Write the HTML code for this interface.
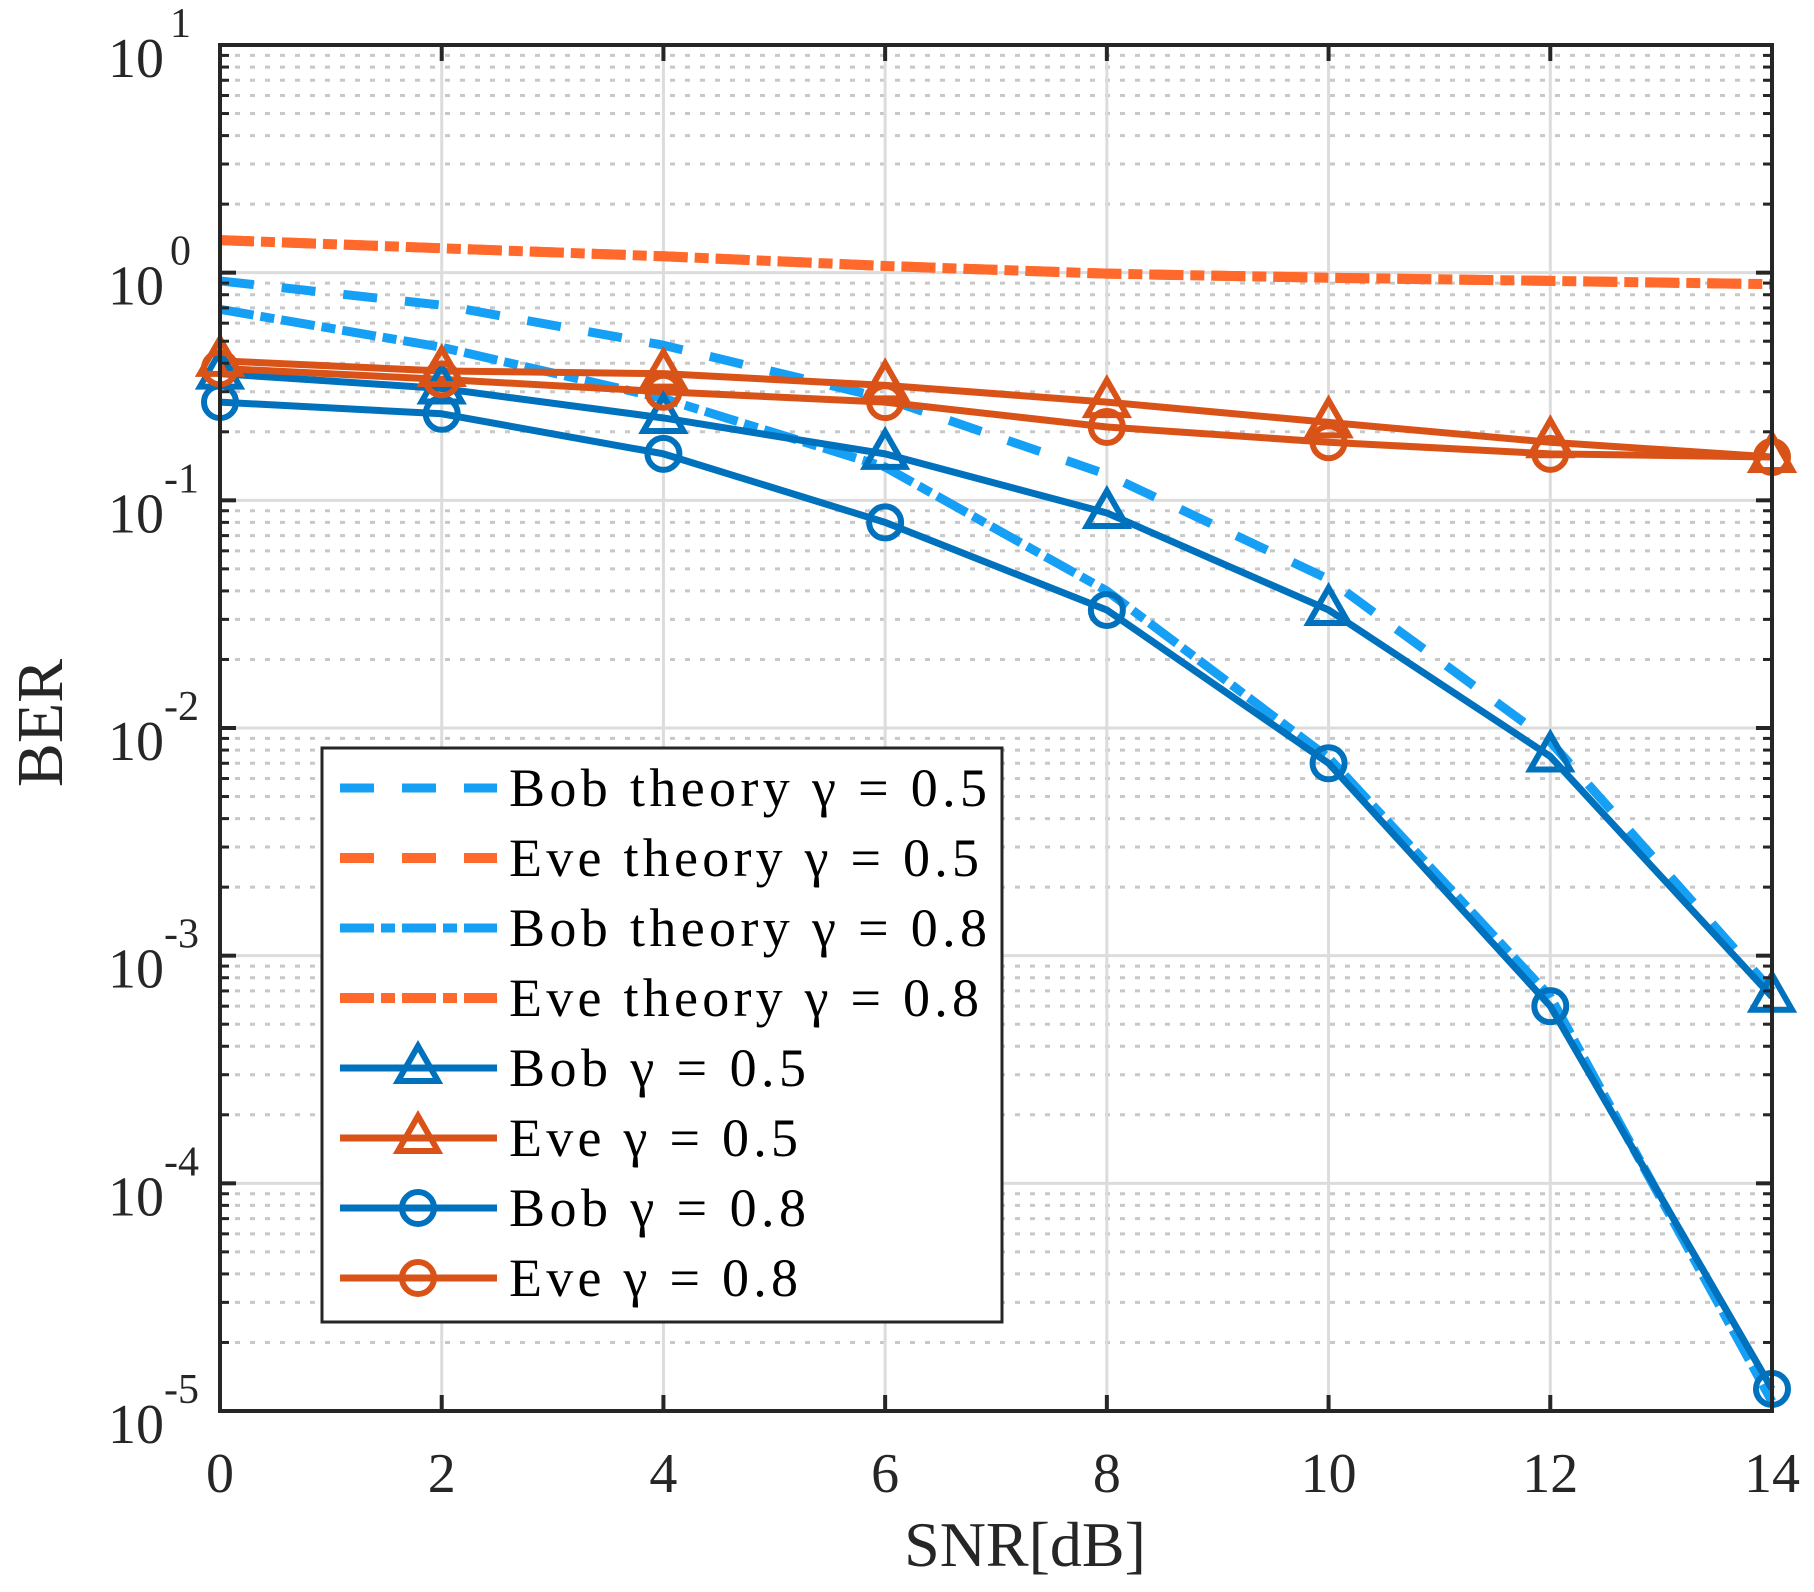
<!DOCTYPE html>
<html><head><meta charset="utf-8"><style>
html,body{margin:0;padding:0;background:#fff;}
svg{display:block;font-family:"Liberation Serif",serif;}
</style></head><body>
<svg id="chart" width="1814" height="1592" viewBox="0 0 1814 1592" xmlns="http://www.w3.org/2000/svg">
<rect width="1814" height="1592" fill="#fff"/>
<g id="grid"></g>
<g id="series"></g>
<g id="axes"></g>
<g id="legend"></g>
<text x="0" y="0" transform="translate(62,723) rotate(-90)" text-anchor="middle" font-size="66" fill="#262626">BER</text>
<text x="1025" y="1566" text-anchor="middle" font-size="64" fill="#262626">SNR[dB]</text>
</svg>
<script>
const snr = [0,2,4,6,8,10,12,14];
const bobTheory05 = [0.92,0.72,0.48,0.28,0.13,0.045,0.0087,0.0007];
const eveTheory05 = [1.39,1.28,1.18,1.07,0.99,0.95,0.92,0.89];
const bobTheory08 = [0.69,0.47,0.28,0.14,0.04,0.0074,0.00066,0.000011];
const eveTheory08 = [1.39,1.28,1.18,1.07,0.99,0.95,0.92,0.89];
const bob05 = [0.36,0.31,0.23,0.16,0.088,0.033,0.0075,0.00066];
const eve05 = [0.41,0.37,0.36,0.32,0.27,0.22,0.18,0.155];
const bob08 = [0.27,0.24,0.16,0.08,0.033,0.007,0.0006,0.0000125];
const eve08 = [0.38,0.34,0.30,0.27,0.21,0.18,0.16,0.155];
const xTicks = [0,2,4,6,8,10,12,14];
const yExps = [1,0,-1,-2,-3,-4,-5];
const legendLabels = ["Bob theory \u03B3 = 0.5","Eve theory \u03B3 = 0.5","Bob theory \u03B3 = 0.8","Eve theory \u03B3 = 0.8","Bob \u03B3 = 0.5","Eve \u03B3 = 0.5","Bob \u03B3 = 0.8","Eve \u03B3 = 0.8"];
const legendTextWidths = [478,470,478,470,297,289,297,289];

const L=220,R=1772,T=45,B=1411;
const NS="http://www.w3.org/2000/svg";
const xs=v=>L+(v-0)/(14-0)*(R-L);
const ys=v=>T+(1-Math.log10(v))/6*(B-T);
function mk(tag,attrs,parent){const e=document.createElementNS(NS,tag);for(const k in attrs)e.setAttribute(k,attrs[k]);parent.appendChild(e);return e;}

const grid=document.getElementById('grid');
for(let d=-5;d<1;d++){for(let m=2;m<=9;m++){const y=ys(m*Math.pow(10,d));
const g=mk('line',{x1:L,x2:R,y1:y,y2:y,stroke:'#c8c8c8','stroke-width':3,'stroke-dasharray':'5 10'},grid);

}}
yExps.forEach(e=>{const y=ys(Math.pow(10,e));const g=mk('line',{x1:L,x2:R,y1:y,y2:y,stroke:'#dcdcdc','stroke-width':3},grid);

});
xTicks.forEach(t=>{const x=xs(t);const g=mk('line',{x1:x,x2:x,y1:T,y2:B,stroke:'#dcdcdc','stroke-width':3},grid);

});

const BL='#0072BD',OR='#D95319',LB='#16a0f5',LO='#ff6a2c';
const ser=document.getElementById('series');
function line(data,color,w,dash,name){const pts=snr.map((s,i)=>xs(s)+','+ys(data[i])).join(' ');
const p=mk('polyline',{points:pts,fill:'none',stroke:color,'stroke-width':w,'stroke-dasharray':dash||'none','stroke-linejoin':'round'},ser);

}
function tri(x,y,c,par){return mk('polygon',{points:`${x},${y-22} ${x-20},${y+13} ${x+20},${y+13}`,fill:'none',stroke:c,'stroke-width':6,'stroke-linejoin':'miter'},par);}
function circ(x,y,c,par){return mk('circle',{cx:x,cy:y,r:16,fill:'none',stroke:c,'stroke-width':6},par);}
line(eveTheory05,LO,10,'34 28','eve-theory-05-line');
line(eveTheory08,LO,10,'34 7 14 7','eve-theory-08-line');
line(bobTheory05,LB,9,'34 28','bob-theory-05-line');
line(bobTheory08,LB,9,'34 7 14 7','bob-theory-08-line');
line(bob05,BL,7,null,'bob-05-line');
line(eve05,OR,7,null,'eve-05-line');
line(bob08,BL,7,null,'bob-08-line');
line(eve08,OR,7,null,'eve-08-line');
snr.forEach((s,i)=>{
 let m=tri(xs(s),ys(bob05[i]),BL,ser);
 m=tri(xs(s),ys(eve05[i]),OR,ser);
 m=circ(xs(s),ys(bob08[i]),BL,ser);
 m=circ(xs(s),ys(eve08[i]),OR,ser);
});

const ax=document.getElementById('axes');
const fr=mk('rect',{x:L,y:T,width:R-L,height:B-T,fill:'none',stroke:'#262626','stroke-width':4},ax);


xTicks.forEach(t=>{const x=xs(t);
mk('line',{x1:x,x2:x,y1:B,y2:B-16,stroke:'#262626','stroke-width':4},ax);
mk('line',{x1:x,x2:x,y1:T,y2:T+16,stroke:'#262626','stroke-width':4},ax);
const tx=mk('text',{x:x,y:1492,'text-anchor':'middle','font-size':56,fill:'#262626'},ax);tx.textContent=t;

});
for(let d=-5;d<1;d++){for(let m=2;m<=9;m++){const y=ys(m*Math.pow(10,d));
mk('line',{x1:L,x2:L+9,y1:y,y2:y,stroke:'#262626','stroke-width':3},ax);
mk('line',{x1:R,x2:R-9,y1:y,y2:y,stroke:'#262626','stroke-width':3},ax);}}
yExps.forEach(e=>{const y=ys(Math.pow(10,e));
mk('line',{x1:L,x2:L+16,y1:y,y2:y,stroke:'#262626','stroke-width':4},ax);
mk('line',{x1:R,x2:R-16,y1:y,y2:y,stroke:'#262626','stroke-width':4},ax);
const tx=mk('text',{x:164,y:y+32,'text-anchor':'end','font-size':56,fill:'#262626'},ax);tx.textContent='10';


const sp=mk('text',{x:(e<0?164:170),y:y-8,'text-anchor':'start','font-size':42,fill:'#262626'},ax);sp.textContent=(e<0?'-':'')+Math.abs(e);

});

const lg=document.getElementById('legend');
const box=mk('rect',{x:322,y:748,width:680,height:574,fill:'#fff',stroke:'#262626','stroke-width':3},lg);


const styles=[[LB,9,'34 28',null],[LO,10,'34 28',null],[LB,9,'34 7 14 7',null],[LO,10,'34 7 14 7',null],[BL,7,null,'tri'],[OR,7,null,'tri'],[BL,7,null,'circ'],[OR,7,null,'circ']];
legendLabels.forEach((lab,i)=>{const y=788+i*70;const s=styles[i];
const g=mk('g',{},lg);


mk('line',{x1:340,x2:497,y1:y,y2:y,stroke:s[0],'stroke-width':s[1],'stroke-dasharray':s[2]||'none'},g);
if(s[3]==='tri')tri(418,y,s[0],g);if(s[3]==='circ')circ(418,y,s[0],g);
const t=mk('text',{x:509,y:y+18,'font-size':54,fill:'#000',textLength:legendTextWidths[i],lengthAdjust:'spacing'},g);t.textContent=lab;});
</script>
</body></html>
